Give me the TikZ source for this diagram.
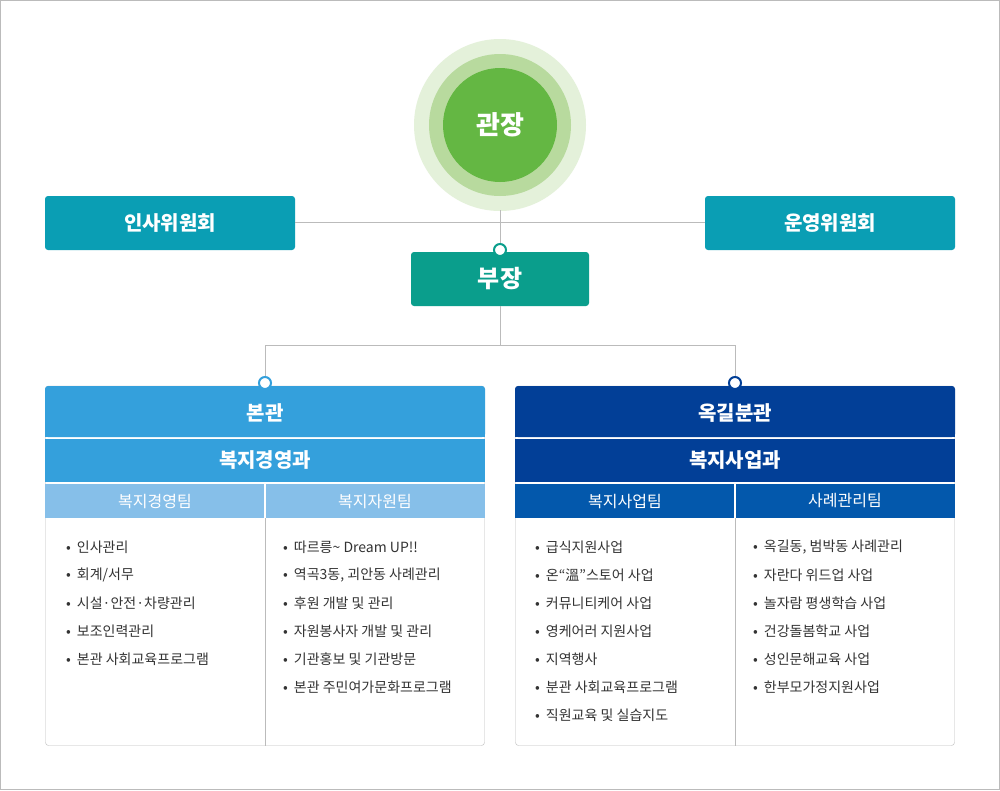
\documentclass[tikz,border=0pt]{standalone}
\usepackage{fontspec}
\setmainfont{Noto Sans CJK KR}
\definecolor{ringA}{HTML}{E4F1DA}
\definecolor{ringB}{HTML}{B8DA9E}
\definecolor{chief}{HTML}{64B743}
\definecolor{committee}{HTML}{0A9EB4}
\definecolor{deputy}{HTML}{0A9E8C}
\definecolor{mainA}{HTML}{34A0DC}
\definecolor{mainB}{HTML}{86BFE9}
\definecolor{branchA}{HTML}{023F97}
\definecolor{branchB}{HTML}{0358AC}
\definecolor{linegray}{HTML}{BBBBBB}
\tikzset{
  headbox/.style={inner sep=0pt, text=white, font=\bfseries\fontsize{20}{24}\selectfont},
  teambox/.style={inner sep=0pt, text=white, font=\fontsize{16}{20}\selectfont},
  item/.style={anchor=west, inner sep=0pt, font=\fontsize{14}{17}\selectfont, text=black!80},
  joint/.style={circle, draw=#1, line width=2pt, fill=white, inner sep=0pt, minimum size=12pt},
  wire/.style={draw=linegray, line width=1pt}
}
\begin{document}
\begin{tikzpicture}[x=1pt,y=-1pt]
    \useasboundingbox (0,0) rectangle (1000,790);
    \draw [draw=linegray, fill=white] (0.5,0.5) rectangle (999.5,789.5);

    % chief
    \fill [ringA] (500,125) circle (86);
    \fill [ringB] (500,125) circle (71);
    \fill [chief] (500,125) circle (57);
    \node (chief) [headbox, font=\bfseries\fontsize{26}{30}\selectfont] at (500,125) {관장};

    % committees and deputy
    \fill [committee, rounded corners=3pt] (45,196) rectangle (295,250);
    \node (hr) [headbox] at (170,223) {인사위원회};
    \fill [committee, rounded corners=3pt] (705,196) rectangle (955,250);
    \node (ops) [headbox] at (830,223) {운영위원회};
    \draw [wire] (295,222) -- (705,222);
    \draw [wire] (500,210) -- (500,252);
    \fill [deputy, rounded corners=3pt] (411,252) rectangle (589,306);
    \node (deputy) [headbox, font=\bfseries\fontsize{24}{28}\selectfont] at (500,279) {부장};
    \node (jd) [joint=deputy] at (500,250) {};

    \draw [wire] (500,306) -- (500,345) -- (265,345) -- (265,380);
    \draw [wire] (500,345) -- (735,345) -- (735,380);

    % main building
    \draw [linegray, fill=white, rounded corners=3pt] (45.5,386) rectangle (484.5,745.5);
    \fill [mainA, rounded corners=3pt] (45,386) rectangle (485,437);
    \fill [mainA] (45,430) rectangle (485,437);
    \fill [mainA] (45,439) rectangle (485,482);
    \fill [mainB] (45,484) rectangle (264,518);
    \fill [mainB] (266,484) rectangle (485,518);
    \draw [linegray] (265,518) -- (265,746);
    \node (main) [headbox] at (265,413) {본관};
    \node (mainsec) [headbox] at (265,460) {복지경영과};
    \node [teambox] at (155,501) {복지경영팀};
    \node [teambox] at (375,501) {복지자원팀};
    \node (jm) [joint=mainA] at (265,383) {};
    \foreach \t [count=\i] in {인사관리, 회계/서무, 시설·안전·차량관리, 보조인력관리, 본관 사회교육프로그램}
      \node [item] at (66,{547+28*(\i-1)}) {•\hspace{6pt}\t};
    \foreach \t [count=\i] in {따르릉\textasciitilde{} Dream UP!!, {역곡3동, 괴안동 사례관리}, 후원 개발 및 관리, 자원봉사자 개발 및 관리, 기관홍보 및 기관방문, 본관 주민여가문화프로그램}
      \node [item] at (283,{547+28*(\i-1)}) {•\hspace{6pt}\t};

    % branch
    \draw [linegray, fill=white, rounded corners=3pt] (515.5,386) rectangle (954.5,745.5);
    \fill [branchA, rounded corners=3pt] (515,386) rectangle (955,437);
    \fill [branchA] (515,430) rectangle (955,437);
    \fill [branchA] (515,439) rectangle (955,482);
    \fill [branchB] (515,484) rectangle (734,518);
    \fill [branchB] (736,484) rectangle (955,518);
    \draw [linegray] (735,518) -- (735,746);
    \node (branch) [headbox] at (735,413) {옥길분관};
    \node (branchsec) [headbox] at (735,460) {복지사업과};
    \node [teambox] at (625,501) {복지사업팀};
    \node [teambox] at (845,501) {사례관리팀};
    \node (jb) [joint=branchA] at (735,383) {};
    \foreach \t [count=\i] in {급식지원사업, 온“溫”스토어 사업, 커뮤니티케어 사업, 영케어러 지원사업, 지역행사, 분관 사회교육프로그램, 직원교육 및 실습지도}
      \node [item] at (535,{547+28*(\i-1)}) {•\hspace{6pt}\t};
    \foreach \t [count=\i] in {{옥길동, 범박동 사례관리}, 자란다 위드업 사업, 놀자람 평생학습 사업, 건강돌봄학교 사업, 성인문해교육 사업, 한부모가정지원사업}
      \node [item] at (753,{547+28*(\i-1)}) {•\hspace{6pt}\t};
\end{tikzpicture}
\end{document}
